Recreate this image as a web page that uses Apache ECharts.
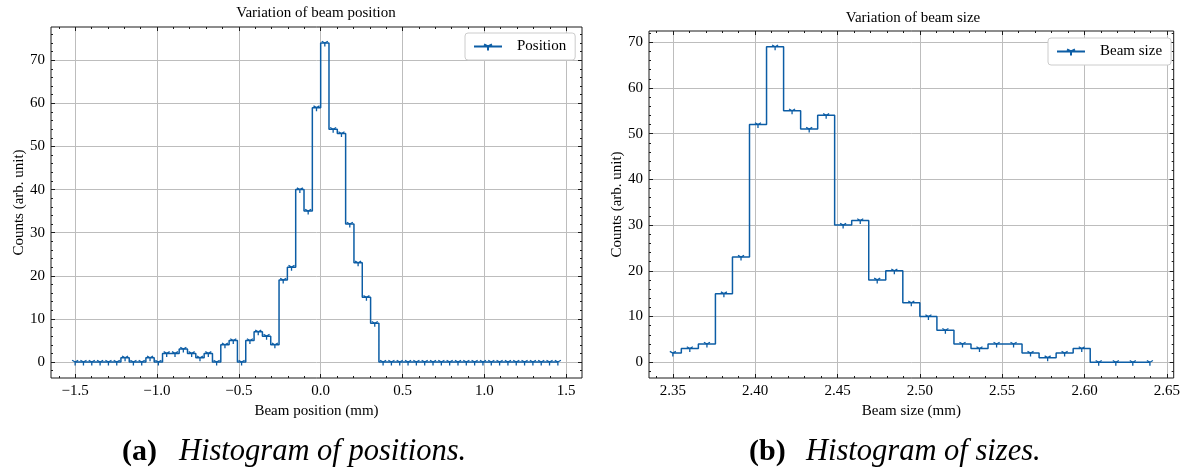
<!DOCTYPE html>
<html><head><meta charset="utf-8">
<script src="https://cdn.jsdelivr.net/npm/echarts@6/dist/echarts.min.js"></script>
<style>html,body{margin:0;padding:0;background:#fff}#c{width:1183px;height:468px}</style>
</head><body><div id="c"></div>
<script>
// ---- data ----
const positionX = [-1.5,-1.4492,-1.3983,-1.3475,-1.2966,-1.2458,-1.1949,-1.1441,-1.0932,-1.0424,
  -0.9915,-0.9407,-0.8898,-0.8390,-0.7881,-0.7373,-0.6864,-0.6356,-0.5847,-0.5339,
  -0.4831,-0.4322,-0.3814,-0.3305,-0.2797,-0.2288,-0.1780,-0.1271,-0.0763,-0.0254,
  0.0254,0.0763,0.1271,0.1780,0.2288,0.2797,0.3305,0.3814,0.4322,0.4831,
  0.5339,0.5847,0.6356,0.6864,0.7373,0.7881,0.8390,0.8898,0.9407,0.9915,
  1.0424,1.0932,1.1441,1.1949,1.2458,1.2966,1.3475,1.3983,1.4492];
const positionCounts = [0,0,0,0,0,0,1,0,0,1,
  0,2,2,3,2,1,2,0,4,5,
  0,5,7,6,4,19,22,40,35,59,
  74,54,53,32,23,15,9,0,0,0,
  0,0,0,0,0,0,0,0,0,0,
  0,0,0,0,0,0,0,0,0];
const sizeX = [2.3500,2.3603,2.3707,2.3810,2.3914,2.4017,2.4121,2.4224,2.4328,2.4431,
  2.4534,2.4638,2.4741,2.4845,2.4948,2.5052,2.5155,2.5259,2.5362,2.5466,
  2.5569,2.5672,2.5776,2.5879,2.5983,2.6086,2.6190,2.6293,2.6397];
const sizeCounts = [2,3,4,15,23,52,69,55,51,54,
  30,31,18,20,13,10,7,4,3,4,
  4,2,1,2,3,0,0,0,0];
const positionTicks = [-1.5,-1.0,-0.5,0.0,0.5,1.0,1.5];
const sizeTicks = [2.35,2.40,2.45,2.50,2.55,2.60,2.65];
const countTicks = [0,10,20,30,40,50,60,70];

// ---- helpers ----
const FONT = '"Liberation Serif", "DejaVu Serif", serif';
const BLUE = '#0C5DA5';
const INK = '#1a1a1a';
function seq(a, b, div) { const r = []; for (let i = a; i <= b; i++) r.push(i / div); return r; }
const posMinor = seq(-16, 15, 10);
const sizeMinor = seq(234, 265, 100);
const countMinor = seq(-1, 38, 0.5);

const fmtPos = v => (v < -1e-9 ? '\u2212' : '') + Math.abs(v).toFixed(1);
const fmtSize = v => v.toFixed(2);
const fmtCount = v => String(Math.round(v));

function axisSet(kind, gi, min, max, major, minor, fmt, name, nameGap) {
  const p1 = kind === 'x' ? 'bottom' : 'left';
  const p2 = kind === 'x' ? 'top' : 'right';
  const base = { type: 'value', gridIndex: gi, min: min, max: max,
    axisLine: { show: false, onZero: false }, splitArea: { show: false } };
  const tick = (vals, len) => ({ show: true, inside: true, length: len, customValues: vals, lineStyle: { color: INK, width: 1 } });
  return [
    Object.assign({}, base, {
      position: p1, name: name, nameLocation: 'middle', nameGap: nameGap,
      nameTextStyle: { fontFamily: FONT, fontSize: 15, color: '#000' },
      axisTick: tick(major, 4),
      axisLabel: { show: true, customValues: major, formatter: fmt, margin: 6, color: '#000', fontFamily: FONT, fontSize: 15 },
      splitLine: { show: true, lineStyle: { color: '#bdbdbd', width: 1 } }
    }),
    Object.assign({}, base, { position: p1, axisTick: tick(minor, 2), axisLabel: { show: false }, splitLine: { show: false } }),
    Object.assign({}, base, { position: p2, axisTick: tick(major, 4), axisLabel: { show: false }, splitLine: { show: false } }),
    Object.assign({}, base, { position: p2, axisTick: tick(minor, 2), axisLabel: { show: false }, splitLine: { show: false } })
  ];
}

const triDown = 'path://M0,-10M0,0L0,10M0,0L-8.66,-5M0,0L8.66,-5';

const xAxes = [].concat(
  axisSet('x', 0, -1.64746, 1.59661, positionTicks, posMinor, fmtPos, 'Beam position (mm)', 22),
  axisSet('x', 1, 2.33552, 2.65414, sizeTicks, sizeMinor, fmtSize, 'Beam size (mm)', 22)
);
const yAxes = [].concat(
  axisSet('y', 0, -3.7, 77.7, countTicks, countMinor, fmtCount, 'Counts (arb. unit)', 23),
  axisSet('y', 1, -3.45, 72.45, countTicks, countMinor, fmtCount, 'Counts (arb. unit)', 24)
);

function series(name, xs, ys, gi) {
  return {
    name: name, type: 'line', step: 'middle',
    xAxisIndex: gi * 4, yAxisIndex: gi * 4,
    data: xs.map((x, i) => [x, ys[i]]),
    symbol: triDown, symbolSize: 7, symbolKeepAspect: true, showSymbol: true,
    lineStyle: { color: BLUE, width: 1.5 },
    itemStyle: { color: BLUE, borderColor: BLUE, borderWidth: 1.3 },
    emphasis: { disabled: true },
    z: 5
  };
}

const legendBase = {
  orient: 'vertical', itemWidth: 28, itemHeight: 10, itemGap: 0,
  padding: [6, 9, 6, 8], borderColor: '#cccccc', borderWidth: 1, borderRadius: 3,
  backgroundColor: '#fff',
  textStyle: { fontFamily: FONT, fontSize: 15, color: '#000', padding: [0, 0, 0, 10] },
  selectedMode: false
};

const chart = echarts.init(document.getElementById('c'), null, { renderer: 'canvas' });
chart.setOption({
  animation: false,
  backgroundColor: '#fff',
  title: [
    { text: 'Variation of beam position', left: 316, top: 6, textAlign: 'center', padding: 0,
      textStyle: { fontFamily: FONT, fontSize: 15, fontWeight: 'normal', color: '#000' } },
    { text: 'Variation of beam size', left: 913, top: 11, textAlign: 'center', padding: 0,
      textStyle: { fontFamily: FONT, fontSize: 15, fontWeight: 'normal', color: '#000' } }
  ],
  grid: [
    { left: 51, top: 27, width: 531, height: 351, show: true, borderColor: INK, borderWidth: 1, containLabel: false },
    { left: 649, top: 31, width: 527, height: 347, show: true, borderColor: INK, borderWidth: 1, containLabel: false }
  ],
  legend: [
    Object.assign({}, legendBase, { data: ['Position'], left: 465, top: 33 }),
    Object.assign({}, legendBase, { data: ['Beam size'], left: 1048, top: 38 })
  ],
  xAxis: xAxes,
  yAxis: yAxes,
  series: [
    series('Position', positionX, positionCounts, 0),
    series('Beam size', sizeX, sizeCounts, 1)
  ],
  graphic: [
    { type: 'text', x: 122, y: 452, style: { text: '(a)', fontFamily: FONT, fontSize: 30, fontWeight: 'bold', fill: '#000', align: 'left', verticalAlign: 'middle' } },
    { type: 'text', x: 179, y: 452, style: { text: 'Histogram of positions.', fontFamily: FONT, fontSize: 30.5, fontStyle: 'italic', fill: '#000', align: 'left', verticalAlign: 'middle' } },
    { type: 'text', x: 749, y: 452, style: { text: '(b)', fontFamily: FONT, fontSize: 30, fontWeight: 'bold', fill: '#000', align: 'left', verticalAlign: 'middle' } },
    { type: 'text', x: 806, y: 452, style: { text: 'Histogram of sizes.', fontFamily: FONT, fontSize: 30.5, fontStyle: 'italic', fill: '#000', align: 'left', verticalAlign: 'middle' } }
  ]
});
</script>
</body></html>
